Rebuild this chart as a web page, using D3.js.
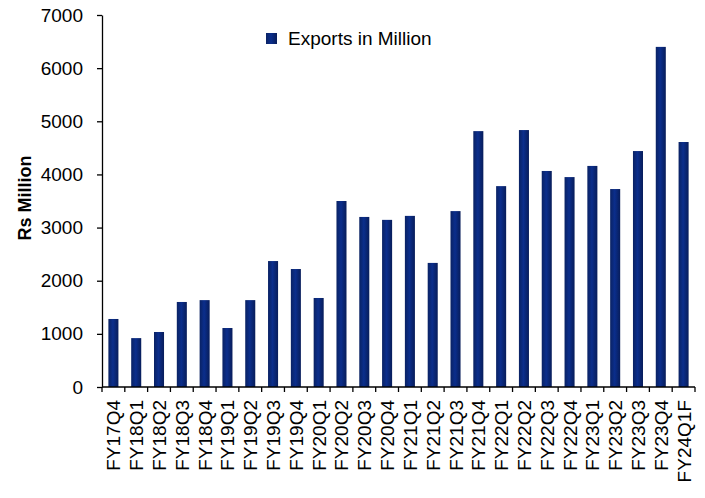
<!DOCTYPE html>
<html>
<head>
<meta charset="utf-8">
<title>Exports in Million</title>
<script src="https://d3js.org/d3.v7.min.js"></script>
<style>
  body { margin: 0; background: #fff; }
  text { font-family: "Liberation Sans", Arial, sans-serif; fill: #000; }
</style>
</head>
<body>
<div id="chart"></div>
<script>
// quarters and export values (Rs million)
var quarters = ["FY17Q4", "FY18Q1", "FY18Q2", "FY18Q3", "FY18Q4", "FY19Q1", "FY19Q2",
  "FY19Q3", "FY19Q4", "FY20Q1", "FY20Q2", "FY20Q3", "FY20Q4", "FY21Q1", "FY21Q2",
  "FY21Q3", "FY21Q4", "FY22Q1", "FY22Q2", "FY22Q3", "FY22Q4", "FY23Q1", "FY23Q2",
  "FY23Q3", "FY23Q4", "FY24Q1F"];
var exportsVals = [1280, 920, 1035, 1600, 1635, 1110, 1635,
  2370, 2220, 1675, 3500, 3200, 3145, 3220, 2335,
  3310, 4815, 3780, 4835, 4065, 3950, 4160, 3725,
  4440, 6400, 4610];
var yTicks = [0, 1000, 2000, 3000, 4000, 5000, 6000, 7000];

var W = 705, H = 498;
var margin = {top: 15, right: 10, bottom: 111, left: 102},
    width = 695 - margin.left,
    height = 387 - margin.top;

var svg = d3.select("#chart").append("svg")
    .attr("width", W)
    .attr("height", H);

// bar gradient: darker edges, lighter middle
var grad = svg.append("defs").append("linearGradient")
    .attr("id", "barGrad")
    .attr("x1", "0%").attr("x2", "100%").attr("y1", "0%").attr("y2", "0%");
grad.append("stop").attr("offset", "0%").attr("stop-color", "#0a2263");
grad.append("stop").attr("offset", "45%").attr("stop-color", "#0b2e8c");
grad.append("stop").attr("offset", "100%").attr("stop-color", "#081d5a");

var g = svg.append("g")
    .attr("transform", "translate(" + margin.left + "," + margin.top + ")");

var x = d3.scaleBand()
    .domain(quarters)
    .range([0, width])
    .padding(0);

var y = d3.scaleLinear()
    .domain([0, 7000])
    .range([height, 0]);

// bars
var barW = x.bandwidth() * 0.44;
g.append("g").selectAll("rect")
  .data(quarters)
  .enter().append("rect")
    .attr("x", function(d) { return x(d) + (x.bandwidth() - barW) / 2; })
    .attr("y", function(d, i) { return y(exportsVals[i]); })
    .attr("width", barW)
    .attr("height", function(d, i) { return height - y(exportsVals[i]); })
    .style("fill", "url(#barGrad)");

// y axis
var yAxis = g.append("g")
    .call(d3.axisLeft(y).tickValues(yTicks).tickFormat(d3.format("d"))
      .tickSize(5).tickPadding(14).tickSizeOuter(0));
yAxis.select(".domain").attr("stroke", "#000").attr("stroke-width", 1.3);
yAxis.selectAll("line").attr("stroke", "#000").attr("stroke-width", 1.3);
yAxis.selectAll("text")
    .style("font-family", "Liberation Sans, Arial, sans-serif")
    .style("font-size", "19px");

// x axis line and boundary ticks
var xg = g.append("g").attr("transform", "translate(0," + height + ")");
xg.append("line")
    .attr("x1", 0).attr("x2", width)
    .attr("stroke", "#000").attr("stroke-width", 1.3);
var bounds = quarters.map(function(d) { return x(d); }).concat([width]);
xg.selectAll(".xtick")
  .data(bounds)
  .enter().append("line")
    .attr("class", "xtick")
    .attr("x1", function(d) { return d; })
    .attr("x2", function(d) { return d; })
    .attr("y1", 0).attr("y2", 5)
    .attr("stroke", "#000").attr("stroke-width", 1.3);
xg.selectAll(".xlab")
  .data(quarters)
  .enter().append("text")
    .attr("class", "xlab")
    .attr("transform", function(d) {
      return "translate(" + (x(d) + x.bandwidth() / 2 + 7) + ",13) rotate(-90)";
    })
    .attr("text-anchor", "end")
    .style("font-size", "19px")
    .text(function(d) { return d; });

// y axis title
svg.append("text")
    .attr("transform", "translate(31,198) rotate(-90)")
    .attr("text-anchor", "middle")
    .style("font-size", "18px")
    .style("font-weight", "bold")
    .text("Rs Million");

// legend
var legend = svg.append("g").attr("transform", "translate(266,33)");
legend.append("rect")
    .attr("width", 11).attr("height", 11)
    .style("fill", "url(#barGrad)");
legend.append("text")
    .attr("x", 22).attr("y", 12)
    .style("font-size", "19px")
    .text("Exports in Million");
</script>
</body>
</html>
